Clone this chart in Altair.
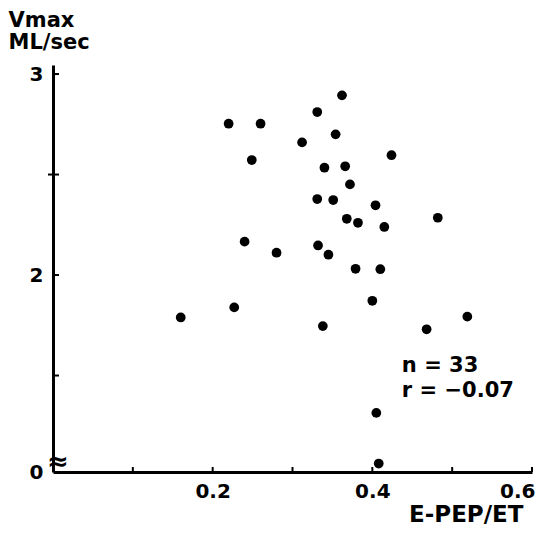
import altair as alt
import pandas as pd

# E-PEP/ET values
x_vals = [0.362, 0.331, 0.220, 0.260, 0.354, 0.312, 0.424, 0.249, 0.340, 0.366,
          0.372, 0.331, 0.351, 0.404, 0.368, 0.382, 0.415, 0.482, 0.240, 0.280,
          0.332, 0.345, 0.379, 0.410, 0.227, 0.160, 0.400, 0.519, 0.338, 0.468,
          0.405, 0.408]
# Vmax values (ML/sec)
y_vals = [2.894, 2.811, 2.753, 2.753, 2.700, 2.660, 2.596, 2.572, 2.534, 2.541,
          2.451, 2.378, 2.373, 2.347, 2.280, 2.260, 2.239, 2.285, 2.166, 2.111,
          2.147, 2.101, 2.031, 2.029, 1.839, 1.789, 1.872, 1.793, 1.746, 1.730,
          1.314, 1.062]

x_ticks = [0.1, 0.2, 0.3, 0.4, 0.5, 0.6]
x_labels = [0.2, 0.4, 0.6]
y_ticks = [1.5, 2.0, 2.5, 3.0]
y_bottom = 1.02
y_top = 3.045
y_labels = [y_bottom, 2.0, 3.0]
stats_text = ["n = 33", "r = −0.07"]

W = 479
H = 407
FONT = "DejaVu Sans"

pts = pd.DataFrame({"x": x_vals, "y": y_vals})
xs = alt.Scale(domain=[0, 0.6], nice=False, zero=False)
ys = alt.Scale(domain=[y_bottom, y_top], nice=False, zero=False)

points = alt.Chart(pts).mark_circle(size=95, color="black", opacity=1).encode(
    x=alt.X("x:Q", scale=xs, axis=alt.Axis(
        values=x_labels, format=".1f", ticks=False, tickSize=0, grid=False,
        domainWidth=3, domainColor="black", labelPadding=9,
        labelFlush=True, labelFlushOffset=3,
        labelFont=FONT, labelFontSize=20, labelFontWeight="bold", labelColor="black",
        title="E-PEP/ET", titleFont=FONT, titleFontSize=23, titleFontWeight="bold",
        titleColor="black", titleAlign="right", titleBaseline="alphabetic",
        titleX=470, titleY=49, titleAnchor="end")),
    y=alt.Y("y:Q", scale=ys, axis=alt.Axis(
        values=y_labels, ticks=False, tickSize=0, grid=False,
        labelExpr="datum.value < 1.5 ? '0' : format(datum.value, 'd')",
        domainWidth=3, domainColor="black", labelPadding=10,
        labelFont=FONT, labelFontSize=20, labelFontWeight="bold", labelColor="black",
        title=["Vmax", "ML/sec"], titleAngle=0, titleAlign="left", titleBaseline="top",
        titleX=-45, titleY=-56, titleFont=FONT, titleFontSize=21, titleFontWeight="bold",
        titleColor="black", titleLineHeight=22)),
)

xt = alt.Chart(pd.DataFrame({"v": x_ticks})).mark_rule(color="black", strokeWidth=2).encode(
    x=alt.X("v:Q", scale=xs), y=alt.value(H), y2=alt.value(H - 5))
yt = alt.Chart(pd.DataFrame({"v": y_ticks})).mark_rule(color="black", strokeWidth=2).encode(
    y=alt.Y("v:Q", scale=ys), x=alt.value(0), x2=alt.value(6))
yt_mid = alt.Chart(pd.DataFrame({"v": [2.5]})).mark_rule(color="black", strokeWidth=2).encode(
    y=alt.Y("v:Q", scale=ys), x=alt.value(-5), x2=alt.value(0))

brk = alt.Chart(pd.DataFrame({"t": ["≈"]})).mark_text(
    font=FONT, fontSize=26, fontWeight="bold", color="black", align="center",
    baseline="middle", dx=5).encode(
    x=alt.datum(0.0, scale=xs), y=alt.datum(1.07, scale=ys), text="t:N")

stats = alt.Chart(pd.DataFrame({"t": [stats_text]})).mark_text(
    font=FONT, fontSize=21, fontWeight="bold", color="black", align="left",
    baseline="alphabetic", lineHeight=25).encode(
    x=alt.datum(0.437, scale=xs), y=alt.datum(1.517, scale=ys), text="t")

chart = alt.layer(xt, yt, yt_mid, points, brk, stats).properties(
    width=W, height=H,
    autosize=alt.AutoSizeParams(type="none"),
    padding={"left": 45, "top": 57, "right": 3, "bottom": 55},
).configure(background="white").configure_view(stroke=None)

chart.save("out.html", embed_options={"renderer": "svg", "actions": False})
